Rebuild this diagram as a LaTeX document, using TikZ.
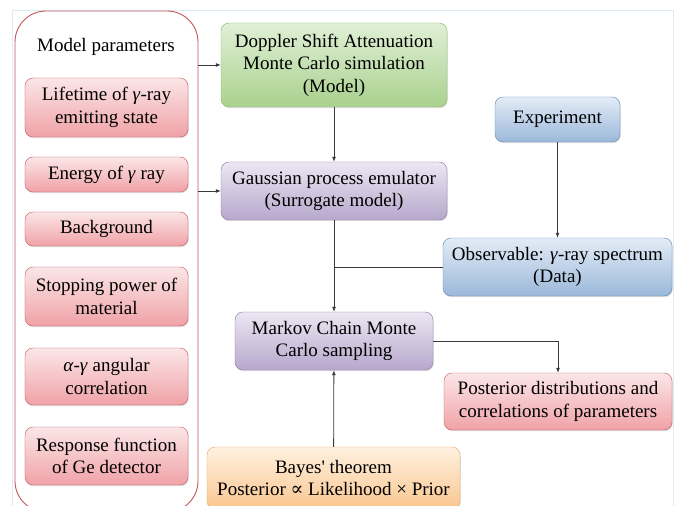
\documentclass[tikz,border=0pt]{standalone}
\usepackage{fontspec}
\setmainfont{Liberation Serif}
\newfontfamily\symbfont{DejaVu Serif}
\usetikzlibrary{arrows.meta,shadows}
\definecolor{redline}{HTML}{C0575B}
\definecolor{redtop}{HTML}{FBE6E7}
\definecolor{redbot}{HTML}{F0A2A7}
\definecolor{greenline}{HTML}{8DB267}
\definecolor{greentop}{HTML}{E0F0D6}
\definecolor{greenbot}{HTML}{A9D18E}
\definecolor{purpleline}{HTML}{8A74A8}
\definecolor{purpletop}{HTML}{ECE7F2}
\definecolor{purplebot}{HTML}{B7A7CC}
\definecolor{blueline}{HTML}{5A86B8}
\definecolor{bluetop}{HTML}{E3ECF6}
\definecolor{bluebot}{HTML}{9BB8DA}
\definecolor{orangeline}{HTML}{E9A860}
\definecolor{orangetop}{HTML}{FEF1DF}
\definecolor{orangebot}{HTML}{FAC690}
\definecolor{framecol}{HTML}{DDEBF7}
\definecolor{linkcol}{HTML}{3A3A3A}
\tikzset{
  every flow node/.style={
    rectangle,rounded corners=8bp,inner sep=0pt,align=center,
    font=\fontsize{19bp}{22.5bp}\selectfont,
    drop shadow={shadow xshift=0.8bp,shadow yshift=-1.2bp,opacity=0.25},
  },
  redbox/.style={every flow node,draw=redline,top color=redtop,bottom color=redbot,minimum width=163bp},
  greenbox/.style={every flow node,draw=greenline,top color=greentop,bottom color=greenbot},
  purplebox/.style={every flow node,draw=purpleline,top color=purpletop,bottom color=purplebot},
  bluebox/.style={every flow node,draw=blueline,top color=bluetop,bottom color=bluebot},
  orangebox/.style={every flow node,draw=orangeline,top color=orangetop,bottom color=orangebot},
  link/.style={draw=linkcol,line width=0.8bp,-{Latex[length=5bp,width=4bp]}},
}

\begin{document}
\begin{tikzpicture}[x=1bp,y=-1bp]
	\useasboundingbox (0,0) rectangle (681,506);
	\draw[framecol,line width=0.8bp] (12,530) -- (12,10) -- (673,10) -- (673,530);
	% model parameters panel
	\node[draw=redline,fill=white,rounded corners=31bp,line width=0.9bp,minimum width=183bp,minimum height=501bp] (params) at (106.5,261.5) {};
	\node[font=\fontsize{19bp}{22.5bp}\selectfont] (ptitle) at (106,47) {Model parameters};
	\node[redbox,minimum height=59bp] (life) at (106.5,107.5) {Lifetime of \textit{γ}-ray\\emitting state};
	\node[redbox,minimum height=35bp] (energy) at (106.5,174.5) {Energy of \textit{γ} ray};
	\node[redbox,minimum height=34bp] (bg) at (106.5,229) {Background};
	\node[redbox,minimum height=59bp] (stop) at (106.5,296.5) {Stopping power of\\material};
	\node[redbox,minimum height=57bp] (ang) at (106.5,376.5) {\textit{α}-\textit{γ} angular\\correlation};
	\node[redbox,minimum height=58bp] (resp) at (106.5,456) {Response function\\of Ge detector};
	% flow
	\node[greenbox,minimum width=226bp,minimum height=84bp] (dsam) at (334,65) {Doppler Shift Attenuation\\Monte Carlo simulation\\(Model)};
	\node[purplebox,minimum width=226bp,minimum height=58bp] (gpe) at (334,191) {Gaussian process emulator\\(Surrogate model)};
	\node[bluebox,minimum width=125bp,minimum height=45bp] (exp) at (557.5,119.5) {Experiment};
	\node[bluebox,minimum width=229bp,minimum height=58bp] (obs) at (557.5,267) {Observable: \textit{γ}-ray spectrum\\(Data)};
	\node[purplebox,minimum width=198bp,minimum height=58bp] (mcmc) at (334,341) {Markov Chain Monte\\Carlo sampling};
	\node[redbox,minimum width=228bp,minimum height=57bp] (post) at (558,401.5) {Posterior distributions and\\correlations of parameters};
	\node[orangebox,minimum width=253bp,minimum height=62bp] (bayes) at (333.5,478) {Bayes\textquotesingle{} theorem\\Posterior {\symbfont ∝} Likelihood × Prior};
	\draw[link] (params.east |- dsam.west) -- (dsam.west);
	\draw[link] (params.east |- gpe.west) -- (gpe.west);
	\draw[link] (dsam) -- (gpe);
	\draw[link] (gpe) -- (mcmc);
	\draw[link] (exp) -- (obs);
	\draw[link,-] (obs.west) -- (obs.west -| gpe.south);
	\draw[link] (mcmc.east) -| (post.north);
	\draw[link] (bayes) -- (mcmc);
\end{tikzpicture}
\end{document}
